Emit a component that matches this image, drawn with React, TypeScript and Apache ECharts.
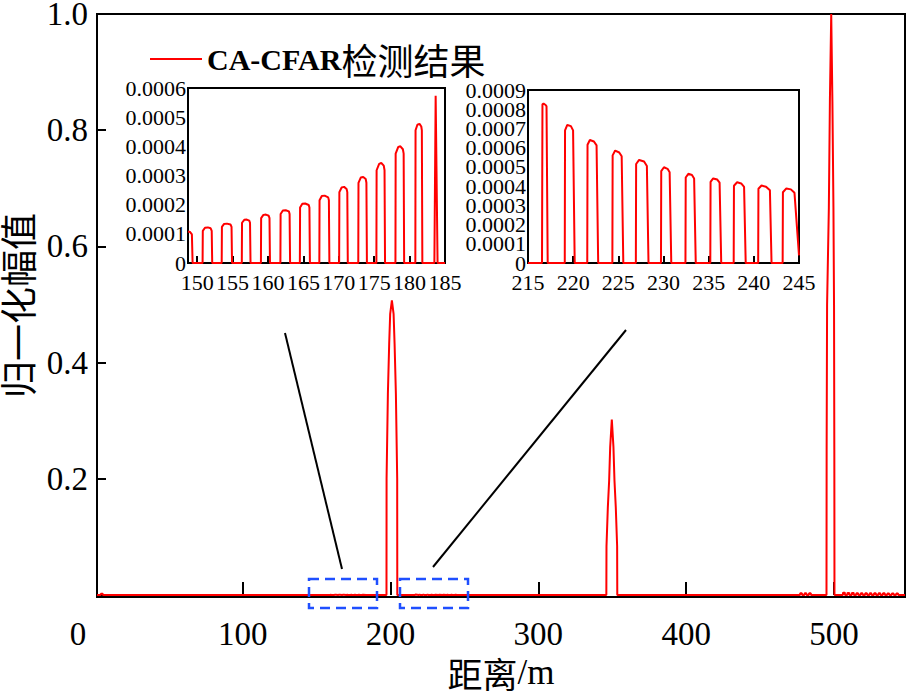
import React, { useEffect, useRef } from "react";
import * as echarts from "echarts";

const SERIF = '"Liberation Serif", "Times New Roman", serif';
const CJK = '"Noto Sans CJK SC", sans-serif';

const legendName = "CA-CFAR检测结果";
const xAxisTitle = "距离/m";
const yAxisTitle = "归一化幅值";

// main-plot baseline (near zero) before the first inset window
const leadData: number[][] = [
  [1.5, 0], [4.0, 0], [4.1, 0.002], [5.4, 0.002], [5.5, 0], [148.6, 0],
];

// inset 1: range 150–185 m
const inset1Data: number[][] = [
  [148.7, 0.000108], [149.0, 0.000106], [149.25, 0.000098], [149.35, 0],
  [150.76, 0], [150.79, 0.00011], [151.1, 0.000121], [151.5, 0.000122], [151.9, 0.000119], [152.05, 0.00011], [152.12, 0],
  [153.46, 0], [153.49, 0.000124], [153.8, 0.000134], [154.2, 0.000135], [154.7, 0.000132], [154.85, 0.000124], [154.92, 0],
  [156.3, 0], [156.33, 0.000138], [156.65, 0.000148], [157.0, 0.000149], [157.35, 0.000145], [157.46, 0.000138], [157.53, 0],
  [159.0, 0], [159.03, 0.000154], [159.35, 0.000165], [159.7, 0.000166], [160.1, 0.000162], [160.21, 0.000154], [160.28, 0],
  [161.75, 0], [161.78, 0.000168], [162.1, 0.00018], [162.5, 0.000181], [162.95, 0.000177], [163.05, 0.000168], [163.12, 0],
  [164.5, 0], [164.53, 0.00019], [164.85, 0.000203], [165.25, 0.000204], [165.75, 0.000199], [165.85, 0.00019], [165.92, 0],
  [167.25, 0], [167.28, 0.000215], [167.6, 0.00023], [168.0, 0.000231], [168.5, 0.000225], [168.6, 0.000215], [168.67, 0],
  [170.05, 0], [170.08, 0.000243], [170.4, 0.000259], [170.75, 0.000261], [171.1, 0.000254], [171.2, 0.000243], [171.27, 0],
  [172.75, 0], [172.78, 0.000275], [173.1, 0.000293], [173.45, 0.000295], [173.8, 0.000288], [173.9, 0.000275], [173.97, 0],
  [175.31, 0], [175.34, 0.000318], [175.7, 0.00034], [176.0, 0.000343], [176.35, 0.000334], [176.46, 0.000318], [176.53, 0],
  [178.0, 0], [178.03, 0.000375], [178.4, 0.000398], [178.7, 0.0004], [179.05, 0.00039], [179.16, 0.000375], [179.23, 0],
  [180.81, 0], [180.84, 0.000455], [181.1, 0.000474], [181.4, 0.000477], [181.65, 0.000468], [181.73, 0.000455], [181.8, 0],
  [183.5, 0], [183.68, 0.000573], [183.95, 0],
  [185.0, 0],
];

// first target
const peak1Data: number[][] = [
  [197.3, 0], [197.36, 0.2], [198.24, 0.346], [199.12, 0.432], [199.8, 0.484], [200.95, 0.507],
  [202.1, 0.484], [202.78, 0.432], [203.66, 0.346], [204.54, 0.2], [204.6, 0],
];

// inset 2: range 215–245 m
const inset2Data: number[][] = [
  [215.0, 0],
  [216.55, 0], [216.6, 0.000826], [216.72, 0.00083], [216.95, 0.000822], [217.05, 0.000815], [217.18, 0],
  [219.07, 0], [219.1, 0.00069], [219.35, 0.000718], [219.75, 0.000712], [219.99, 0.00069], [220.17, 0],
  [221.56, 0], [221.59, 0.000615], [221.85, 0.00064], [222.3, 0.000632], [222.59, 0.000612], [222.77, 0],
  [224.34, 0], [224.37, 0.00056], [224.65, 0.000585], [225.1, 0.000575], [225.37, 0.000555], [225.55, 0],
  [226.94, 0], [226.97, 0.000515], [227.3, 0.000536], [227.85, 0.000528], [228.16, 0.000505], [228.34, 0],
  [229.72, 0], [229.75, 0.000478], [230.05, 0.000498], [230.45, 0.00049], [230.68, 0.000472], [230.86, 0],
  [232.43, 0], [232.46, 0.000445], [232.75, 0.000464], [233.15, 0.000458], [233.39, 0.00044], [233.57, 0],
  [235.18, 0], [235.21, 0.000422], [235.5, 0.00044], [235.95, 0.000434], [236.21, 0.000418], [236.39, 0],
  [237.77, 0], [237.8, 0.000402], [238.15, 0.00042], [238.6, 0.000414], [238.92, 0.000396], [239.1, 0],
  [240.48, 0], [240.51, 0.000386], [240.85, 0.000403], [241.35, 0.000397], [241.78, 0.000378], [241.96, 0],
  [243.19, 0], [243.22, 0.000368], [243.6, 0.000388], [244.1, 0.000383], [244.5, 0.000365], [245.0, 0.00004],
];

// second target
const peak2Data: number[][] = [
  [346.0, 0], [346.1, 0.084], [347.0, 0.15], [347.9, 0.197], [348.6, 0.255], [349.7, 0.302],
  [350.8, 0.255], [351.5, 0.197], [352.4, 0.15], [353.3, 0.084], [353.4, 0],
];

// low-level residue just before the third target
const preTailData: number[][] = [
  [477.0, 0], [477.1, 0.003], [478.3, 0.003], [478.4, 0],
  [480.0, 0], [480.1, 0.003], [481.3, 0.003], [481.4, 0],
  [483.0, 0], [483.1, 0.003], [484.3, 0.003], [484.4, 0],
];

// third target
const peak3Data: number[][] = [
  [494.9, 0], [495.0, 0.25], [495.3, 0.5], [496.5, 0.667], [497.2, 0.85], [498.1, 1.0],
  [498.9, 0.85], [499.6, 0.667], [500.0, 0.5], [500.2, 0.25], [500.3, 0],
];

// low-level residue after the third target
const tailData: number[][] = [
  [506.0, 0], [506.1, 0.004], [507.3, 0.004], [507.4, 0],
  [509.0, 0], [509.1, 0.0035], [510.3, 0.0035], [510.4, 0],
  [512.0, 0], [512.1, 0.0035], [513.3, 0.0035], [513.4, 0],
  [515.0, 0], [515.1, 0.003], [516.3, 0.003], [516.4, 0],
  [518.0, 0], [518.1, 0.003], [519.3, 0.003], [519.4, 0],
  [521.0, 0], [521.1, 0.003], [522.3, 0.003], [522.4, 0],
  [524.0, 0], [524.1, 0.003], [525.3, 0.003], [525.4, 0],
  [527.0, 0], [527.1, 0.003], [528.3, 0.003], [528.4, 0],
  [530.0, 0], [530.1, 0.003], [531.3, 0.003], [531.4, 0],
  [533.0, 0], [533.1, 0.003], [534.3, 0.003], [534.4, 0],
  [536.0, 0], [536.1, 0.0025], [537.3, 0.0025], [537.4, 0],
  [539.0, 0], [539.1, 0.0025], [540.3, 0.0025], [540.4, 0],
  [542.0, 0], [542.1, 0.0025], [543.3, 0.0025], [543.4, 0],
  [548.0, 0],
];

const mainData: number[][] = [
  ...leadData, ...inset1Data, ...peak1Data, ...inset2Data, ...peak2Data,
  ...preTailData, ...peak3Data, ...tailData,
];

const RED = "#ff0000";
const BLUE = "#1f4fff";

export default function App() {
  const ref = useRef<HTMLDivElement>(null);
  useEffect(() => {
    if (!ref.current) return;
    const chart = echarts.init(ref.current, undefined, { renderer: "svg" });
    const border = {
      show: true, borderColor: "#000", borderWidth: 2, backgroundColor: "transparent",
      containLabel: false, outerBoundsMode: "none",
    };
    const mainLabel = { color: "#000", fontFamily: SERIF, fontSize: 33, lineHeight: 26 };
    const insetLabel = { color: "#000", fontFamily: SERIF, fontSize: 22, lineHeight: 17 };
    const insetYFmt = (v: number) => (v < 1e-9 ? "0" : v.toFixed(4));
    chart.setOption({
      animation: false,
      backgroundColor: "#fff",
      grid: [
        { left: 97, right: 2, top: 14, bottom: 95, ...border },
        { left: 188, right: 462, top: 88, bottom: 429, ...border },
        { left: 528, right: 108, top: 90, bottom: 429, ...border },
      ],
      legend: {
        data: [{ name: legendName, icon: "rect" }],
        left: 145,
        top: 36,
        itemWidth: 52,
        itemHeight: 2,
        itemGap: 10,
        formatter: () => "{a|CA-CFAR}{b|检测结果}",
        textStyle: {
          rich: {
            a: { fontFamily: SERIF, fontWeight: "bold", fontSize: 30, color: "#000" },
            b: { fontFamily: CJK, fontSize: 36, color: "#000" },
          },
        },
      },
      xAxis: [
        {
          gridIndex: 0, type: "value", min: 1.5, max: 548,
          splitLine: { show: false }, axisLine: { show: false },
          axisTick: { inside: true, length: 13, lineStyle: { color: "#000", width: 2 } },
          axisLabel: { ...mainLabel, margin: 24, showMinLabel: false, showMaxLabel: false },
          name: "{c|距离}{l|/m}", nameLocation: "middle", nameGap: 57,
          nameTextStyle: {
            lineHeight: 30,
            rich: {
              c: { fontFamily: CJK, fontSize: 35, color: "#000", lineHeight: 30 },
              l: { fontFamily: SERIF, fontSize: 35, color: "#000", lineHeight: 30 },
            },
          },
        },
        {
          gridIndex: 1, type: "value", min: 148.7, max: 185,
          splitNumber: 7,
          splitLine: { show: false }, axisLine: { show: false },
          axisTick: { inside: true, length: 7, lineStyle: { color: "#000", width: 2 } },
          axisLabel: { ...insetLabel, margin: 11, showMinLabel: false, showMaxLabel: true, hideOverlap: false },
        },
        {
          gridIndex: 2, type: "value", min: 215, max: 245, interval: 5,
          splitLine: { show: false }, axisLine: { show: false },
          axisTick: { inside: true, length: 7, lineStyle: { color: "#000", width: 2 } },
          axisLabel: { ...insetLabel, margin: 11, showMinLabel: true, showMaxLabel: true, hideOverlap: false },
        },
      ],
      yAxis: [
        {
          gridIndex: 0, type: "value", min: -0.0035, max: 1, splitNumber: 5,
          splitLine: { show: false }, axisLine: { show: false },
          axisTick: { inside: true, length: 9, lineStyle: { color: "#000", width: 2 } },
          axisLabel: {
            ...mainLabel, margin: 9, showMinLabel: false,
            formatter: (v: number) => (v <= 1e-9 ? "" : v.toFixed(1)),
          },
          name: yAxisTitle, nameLocation: "middle", nameGap: 56,
          nameTextStyle: { fontFamily: CJK, fontSize: 37, color: "#000", lineHeight: 34 },
        },
        {
          gridIndex: 1, type: "value", min: 0, max: 0.0006, interval: 0.0001,
          splitLine: { show: false }, axisLine: { show: false }, axisTick: { show: false },
          axisLabel: {
            ...insetLabel, margin: 2, showMinLabel: true, showMaxLabel: true, hideOverlap: false,
            formatter: insetYFmt,
          },
        },
        {
          // inner labels 0.0001 … 0.0008 of inset 2
          gridIndex: 2, type: "value", position: "left", offset: 0,
          min: 0, max: 0.0009, interval: 0.0001,
          splitLine: { show: false }, axisLine: { show: false }, axisTick: { show: false },
          axisLabel: {
            ...insetLabel, margin: 2, showMinLabel: false, showMaxLabel: false, hideOverlap: false,
            formatter: insetYFmt,
          },
        },
        {
          // end labels 0 and 0.0009 of inset 2
          gridIndex: 2, type: "value", position: "left", offset: 0,
          min: 0, max: 0.0009, interval: 0.0009,
          splitLine: { show: false }, axisLine: { show: false }, axisTick: { show: false },
          axisLabel: {
            ...insetLabel, margin: 2, showMinLabel: true, showMaxLabel: true, hideOverlap: false,
            formatter: insetYFmt,
          },
        },
      ],
      series: [
        {
          name: legendName, type: "line", xAxisIndex: 0, yAxisIndex: 0,
          data: mainData, symbol: "none", showSymbol: false,
          lineStyle: { color: RED, width: 2 }, itemStyle: { color: RED }, z: 3,
        },
        {
          name: "inset1", type: "line", xAxisIndex: 1, yAxisIndex: 1,
          data: inset1Data, symbol: "none", showSymbol: false,
          lineStyle: { color: RED, width: 2 }, itemStyle: { color: RED }, z: 3,
        },
        {
          name: "inset2", type: "line", xAxisIndex: 2, yAxisIndex: 2,
          data: inset2Data, symbol: "none", showSymbol: false,
          lineStyle: { color: RED, width: 2 }, itemStyle: { color: RED }, z: 3,
        },
      ],
      graphic: [
        {
          type: "text", x: 78, y: 634, z: 10,
          style: { text: "0", fill: "#000", fontSize: 33, fontFamily: SERIF, align: "center", verticalAlign: "middle" },
        },
        { type: "line", z: 10, shape: { x1: 285, y1: 333, x2: 342, y2: 569 }, style: { stroke: "#000", lineWidth: 2 } },
        { type: "line", z: 10, shape: { x1: 626, y1: 330, x2: 433, y2: 567 }, style: { stroke: "#000", lineWidth: 2 } },
        {
          type: "rect", z: 10, shape: { x: 309, y: 579, width: 68, height: 29 },
          style: { fill: "none", stroke: BLUE, lineWidth: 2.5, lineDash: [10, 6] },
        },
        {
          type: "rect", z: 10, shape: { x: 400, y: 579, width: 68, height: 29 },
          style: { fill: "none", stroke: BLUE, lineWidth: 2.5, lineDash: [10, 6] },
        },
      ],
    });
    return () => chart.dispose();
  }, []);
  return <div ref={ref} style={{ position: "absolute", left: 0, top: 0, width: 907, height: 692 }} />;
}
